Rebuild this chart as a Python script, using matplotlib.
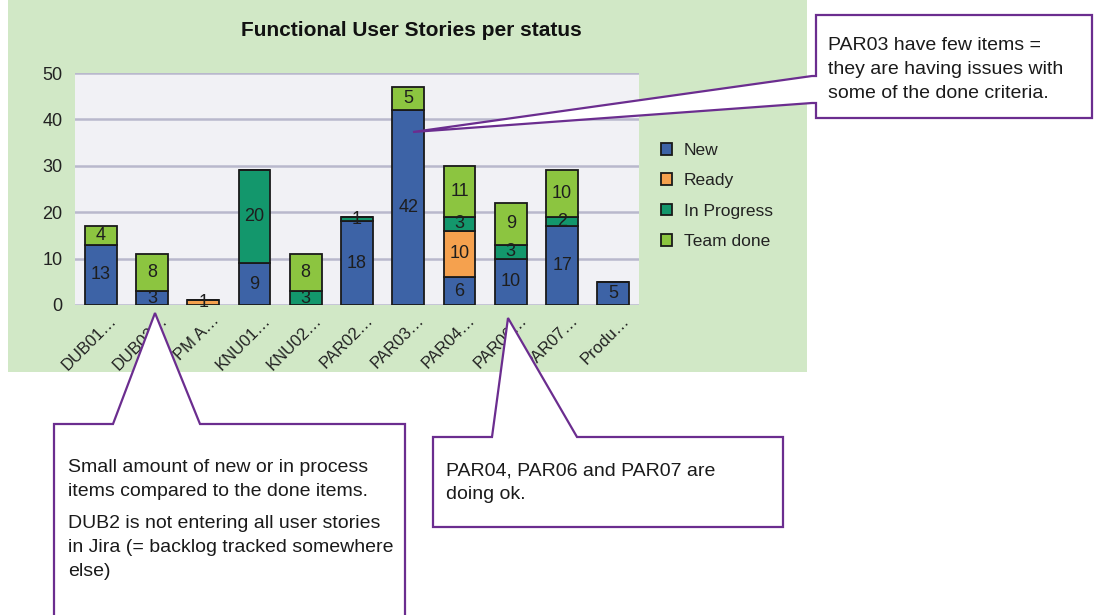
import matplotlib
matplotlib.use("Agg")
import matplotlib.pyplot as plt
import matplotlib.transforms as mtransforms
from matplotlib.patches import Rectangle, Polygon
import numpy as np

plt.rcParams['font.family'] = ['Liberation Sans', 'DejaVu Sans']

# ---------------- data ----------------
categories = ["DUB01…", "DUB02…", "PM A…", "KNU01…", "KNU02…", "PAR02…",
              "PAR03…", "PAR04…", "PAR06…", "PAR07…", "Produ…"]
series_names = ["New", "Ready", "In Progress", "Team done"]
new_vals = [13, 3, 0, 9, 0, 18, 42, 6, 10, 17, 5]
ready_vals = [0, 0, 1, 0, 0, 0, 0, 10, 0, 0, 0]
inprog_vals = [0, 0, 0, 20, 3, 1, 0, 3, 3, 2, 0]
done_vals = [4, 8, 0, 0, 8, 0, 5, 11, 9, 10, 0]
yticks = [0, 10, 20, 30, 40, 50]

title = "Functional User Stories per status"
note_par03 = ["PAR03 have few items =", "they are having issues with",
              "some of the done criteria."]
note_dub = ["Small amount of new or in process", "items compared to the done items.",
            "DUB2 is not entering all user stories", "in Jira (= backlog tracked somewhere",
            "else)"]
note_ok = ["PAR04, PAR06 and PAR07 are", "doing ok."]

colors = ["#3D63A6", "#F5A14E", "#13976C", "#8CC540"]

W, H = 1095, 615
fig = plt.figure(figsize=(W / 100, H / 100), dpi=100)
fig.patch.set_facecolor("white")


def fx(px):
    return px / W


def fy(py):
    return 1 - py / H


# background panel axes
bg = fig.add_axes([0, 0, 1, 1], zorder=0)
bg.set_xlim(0, W)
bg.set_ylim(H, 0)
bg.axis("off")
bg.add_patch(Rectangle((8, 0), 799, 372, facecolor="#D1E8C6", edgecolor="none"))
bg.text(411, 30, title, ha="center", va="center", fontsize=15,
        fontweight="bold", color="#111111")

# chart axes
L, R, T, B = 75, 639, 73, 305
ax = fig.add_axes([fx(L), fy(B), fx(R - L), (B - T) / H], zorder=1)
ax.set_facecolor("#F1F1F5")
x = np.arange(len(categories))
vals = [new_vals, ready_vals, inprog_vals, done_vals]
bottom = np.zeros(len(categories))
handles = []
for name, v, c in zip(series_names, vals, colors):
    v = np.array(v, dtype=float)
    bars = ax.bar(x, v, 0.62, bottom=bottom, color=c, edgecolor="#1a1a1a",
                  linewidth=1.3, label=name, zorder=3)
    handles.append(bars)
    for xi, vi, bi in zip(x, v, bottom):
        if vi > 0:
            ax.text(xi, bi + vi / 2, f"{int(vi)}", ha="center", va="center",
                    fontsize=13, color="#1e1e1e", zorder=4)
    bottom = bottom + v

ax.set_xlim(-0.5, len(categories) - 0.5)
ax.set_ylim(0, 50)
ax.set_yticks(yticks)
ax.yaxis.grid(True, color="#B9B8CC", linewidth=1.8, zorder=0)
ax.set_axisbelow(True)
for s in ax.spines.values():
    s.set_visible(False)
ax.tick_params(axis="y", length=0, pad=9, labelsize=13, labelcolor="#222222")
ax.tick_params(axis="x", length=0, pad=4, labelsize=12, labelcolor="#222222")
ax.set_xticks(x)
ax.set_xticklabels(categories, rotation=45, ha="right", va="top",
                   rotation_mode="anchor")
offset = mtransforms.ScaledTranslation(8 / 100, -2 / 100, fig.dpi_scale_trans)
for lab in ax.get_xticklabels():
    lab.set_transform(lab.get_transform() + offset)

ax.legend(handles=handles, labels=series_names, loc="upper left",
          bbox_to_anchor=(fx(661), fy(143)), bbox_transform=fig.transFigure,
          frameon=False, fontsize=12.5, handlelength=0.65, handleheight=0.65,
          handletextpad=0.65, labelspacing=0.88, borderpad=0, borderaxespad=0,
          labelcolor="#222222")

# overlay for callouts
ov = fig.add_axes([0, 0, 1, 1], zorder=10)
ov.set_xlim(0, W)
ov.set_ylim(H, 0)
ov.axis("off")
ov.patch.set_alpha(0)
purple = "#6B2D8F"

box1 = [(816, 15), (1092, 15), (1092, 118), (816, 118), (816, 103), (812, 103),
        (413, 132), (812, 76), (816, 76)]
box2 = [(54, 424), (113, 424), (155, 313), (200, 424), (405, 424), (405, 640),
        (54, 640)]
box3 = [(433, 437), (492, 437), (508, 318), (577, 437), (783, 437), (783, 527),
        (433, 527)]
for pts in (box1, box2, box3):
    ov.add_patch(Polygon(pts, closed=True, facecolor="white", edgecolor=purple,
                         linewidth=1.6, joinstyle="miter"))

fs_note = 14
for i, t in enumerate(note_par03):
    ov.text(828, 46 + i * 23.5, t, ha="left", va="center", fontsize=fs_note, color="#1a1a1a")
ys = [468, 492, 524, 548, 572]
for t, yy in zip(note_dub, ys):
    ov.text(68, yy, t, ha="left", va="center", fontsize=fs_note, color="#1a1a1a")
for i, t in enumerate(note_ok):
    ov.text(446, 471 + i * 23.5, t, ha="left", va="center", fontsize=fs_note, color="#1a1a1a")

fig.savefig("out.png", dpi=100)
